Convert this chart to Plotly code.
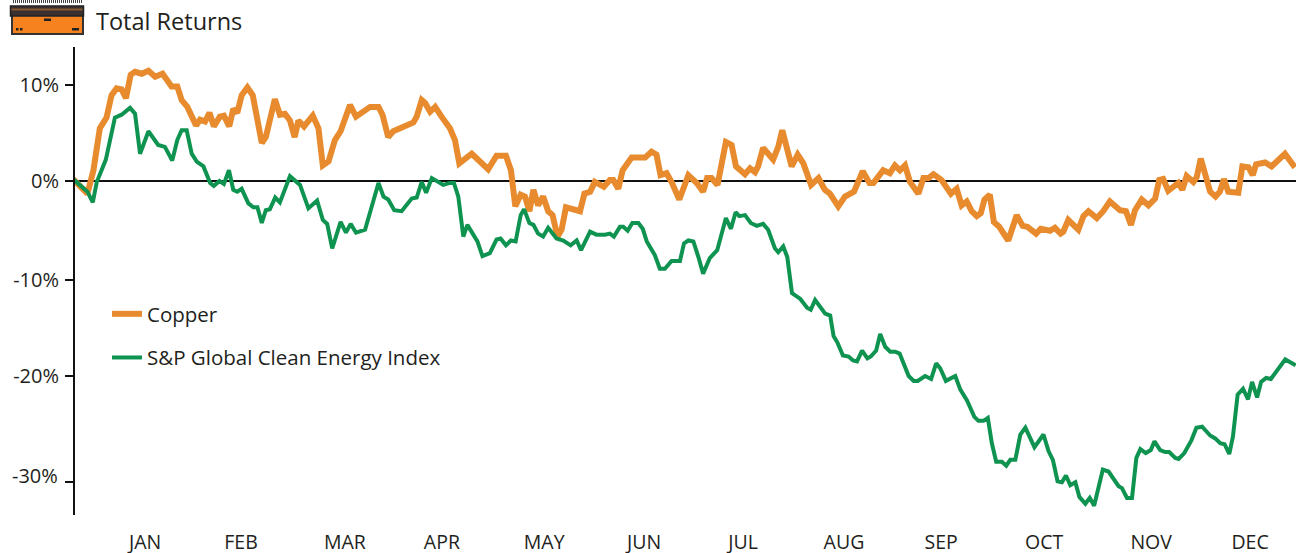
import plotly.graph_objects as go

copper_day = [0,4.6,6.4,8.3,10.3,11.8,13.3,14.8,16.1,17.5,18.8,20.8,22.8,24.8,27,29.7,31.4,32.7,34.4,37,38.2,39.7,41,42.3,44.1,45.3,46.9,48.1,49.3,50.6,52.3,53.9,56.6,57.8,60.5,62,63.5,65,66.4,67.5,69.2,71.8,73.5,74.8,76.5,78.4,80.1,82.9,84.7,88.9,91.4,92.6,94.3,95.8,101.8,102.8,104.3,105.3,106.8,108.3,110.2,112.7,114.2,115.5,119.2,124.1,126.6,129.4,130.9,132.2,133.8,135.1,136.4,137.6,139,140.5,142,143.3,144.8,146,147.3,151.5,152.8,154.5,155.9,158.6,160.4,161.4,162.9,164.2,166.9,170.9,172.8,174.3,175.5,177.3,178.8,181.1,183.8,186.3,188.2,189.4,190.7,192.5,195,196.7,198,200.7,202.2,203.7,204.6,206.1,209.1,210.6,211.8,214.6,216.4,218.1,220.4,222.6,224.5,226,228.5,230.5,233.2,235.8,237.8,239,241.9,243.9,245.4,246.9,248.4,249.9,252.4,253.9,255.4,256.9,259.3,262.1,263.8,265.3,266.8,268.3,269.8,271,272.1,273.7,274.9,276.5,279.2,280.7,281.7,283.5,284.9,287.5,288.9,291.6,293.1,294.8,295.6,297.1,300.1,301.6,303.1,305.6,307.5,309.5,312.5,314.3,315.8,317,319,321,323,324.2,325.4,326.9,329.9,331.1,332.4,334.4,335.4,336.6,339.4,341,342.3,343.5,344.8,347.8,349,350.8,352.1,353.1,355.8,357.7,361.7,364.7]
copper_val = [0.3,-1.3,1.1,5.4,6.5,8.8,9.5,9.4,8.5,10.9,11.2,11.0,11.3,10.7,11.0,9.7,9.7,8.3,7.6,5.7,6.3,6.1,7.0,5.6,6.6,6.7,5.6,7.4,7.0,8.8,9.6,8.8,3.9,4.5,8.4,6.8,6.9,6.2,4.5,6.2,5.6,6.7,5.4,1.6,2.0,4.2,5.1,7.8,6.6,7.6,7.6,6.8,4.5,5.1,6.0,6.6,8.3,8.0,7.1,7.6,6.6,5.4,4.2,1.8,2.8,1.2,2.6,2.6,1.1,-2.6,-1.4,-1.6,-3.1,-0.9,-2.5,-1.6,-3.1,-3.5,-5.7,-5.0,-2.7,-3.1,-1.3,-1.1,-0.1,-0.6,0.1,0.1,-0.8,1.1,2.4,2.4,3.0,2.7,0.6,0.8,-0.1,-1.9,0.6,-0.2,-1.1,0.3,0.3,-0.4,4.0,3.7,1.5,0.7,1.3,0.9,1.5,3.4,2.2,3.5,5.2,1.5,2.7,1.8,-0.4,0.3,-0.9,-1.3,-2.6,-1.6,-1.1,1.0,-0.2,-0.2,1.1,0.8,1.6,1.1,1.6,-0.1,-1.3,0.3,0.3,0.7,0.1,-1.3,-0.8,-2.5,-2.1,-3.1,-3.6,-3.3,-1.9,-1.4,-4.2,-4.7,-6.1,-4.2,-3.5,-4.6,-4.7,-5.4,-4.9,-5.1,-4.8,-5.4,-5.2,-4.0,-5.0,-3.6,-3.1,-3.8,-3.1,-2.1,-3.0,-3.1,-4.5,-3.0,-1.9,-2.5,-1.8,0.1,0.2,-1.0,-0.2,-0.9,0.5,-0.1,0.4,2.3,-1.1,-1.6,-1.1,0.2,-1.1,-1.2,1.5,1.4,0.6,1.7,1.9,1.5,2.8,1.4]

clean_day = [0,4.6,6.2,7.4,10.1,12.8,14.8,17.3,18.8,20.3,22.8,25.7,27.7,29.9,31.4,32.7,34.2,35.7,37.2,39.2,41.2,42.3,44,45.3,46.8,48.1,49.3,50.6,52.6,54.1,55.3,56.6,57.8,59,60.6,62,65,68,70.5,73.1,74.8,76.1,77.6,80.1,81.7,83.1,84.7,87.4,91.4,92.9,94.3,96.1,98.3,101.3,102.8,104.3,105.6,107.3,110.7,112.7,113.9,115.2,116.7,117.9,120.9,122.4,124.6,126.6,127.8,129.4,130.9,132.3,133.8,134.8,136.4,137.6,139,140.5,142,144.5,146.5,148.7,150.5,151.8,154.5,156.4,158.9,160.4,161.6,163.4,164.4,165.7,167.1,168.9,170.2,171.4,173.8,175.3,176.8,178.8,181.3,182.5,183.8,185.3,186.8,188.2,190.2,192.4,195,196.5,197.9,199,200.7,202.4,204.2,206.1,207.6,209.6,210.6,212.1,213.3,214.7,217.2,219.2,220.3,221.6,224.6,226.1,227.1,228.3,229.9,231.6,232.9,234.1,235.6,237.2,238.2,239.8,241,242.5,244,245.5,246.8,249.5,251,252.2,254.4,256.2,257.7,258.9,260.6,263.4,264.9,266.9,269.1,270.3,271.8,273.1,274.3,275.6,277.3,278.6,279.8,281.3,282.8,284.3,287,289.7,291.2,292.5,293.9,295.2,296.4,297.7,299.2,300.4,302.2,303.5,304.8,307.4,309.1,312.1,313.1,314.6,316.1,317.4,318.6,320.2,321.7,322.8,324.5,326,327.2,329,330,331.7,333.8,335.3,337,339.4,340.9,342.4,343.7,345.1,346.2,347.6,349.2,350.7,351.9,353.4,354.6,356.1,357.5,360.3,361.8,364.9]
clean_val = [0.3,-1.1,-2.2,-0.1,2.2,6.5,6.8,7.5,6.9,2.8,5.1,3.7,3.5,2.1,4.2,5.2,5.2,2.8,2.0,1.5,-0.2,-0.5,0,-0.3,1.1,-0.9,-1.1,-0.8,-2.3,-2.7,-2.7,-4.3,-3.0,-2.9,-1.7,-2.2,0.5,-0.4,-2.8,-2.0,-4.0,-4.4,-6.9,-4.2,-5.3,-4.4,-5.3,-5.0,-0.2,-1.6,-1.9,-3.0,-3.1,-1.8,-1.7,-0.1,-1.2,0.3,-0.4,-0.2,-0.2,-1.6,-5.7,-4.5,-6.2,-7.7,-7.4,-6.0,-5.9,-6.6,-6.1,-6.2,-3.5,-2.9,-4.3,-4.5,-5.4,-5.7,-4.8,-5.9,-6.1,-6.6,-6.1,-7.1,-5.2,-5.5,-5.5,-5.4,-5.7,-4.7,-4.7,-5.1,-4.3,-4.3,-4.9,-6.2,-7.6,-9.0,-9.0,-8.2,-8.2,-6.4,-6.1,-6.2,-7.8,-9.5,-7.9,-7.1,-3.8,-4.9,-3.2,-3.6,-3.5,-4.3,-4.6,-4.4,-5.0,-6.9,-7.3,-6.7,-7.8,-11.5,-12.1,-13.0,-13.2,-12.2,-13.6,-13.8,-15.9,-16.6,-17.9,-18.0,-18.4,-18.5,-17.4,-18.2,-18.0,-17.4,-15.7,-17.0,-17.5,-17.5,-17.7,-20.0,-20.5,-20.5,-20.0,-20.3,-18.7,-19.2,-20.5,-20.0,-21.4,-22.5,-24.2,-24.6,-24.6,-24.3,-26.9,-28.8,-28.8,-29.2,-28.6,-28.6,-26.0,-25.3,-27.3,-26.0,-27.7,-28.6,-30.8,-30.9,-30.2,-31.2,-30.9,-32.4,-33.1,-32.5,-33.3,-29.6,-29.8,-31.3,-31.5,-32.5,-32.5,-28.4,-27.5,-27.9,-27.6,-26.7,-27.6,-27.8,-27.8,-28.4,-28.5,-27.9,-26.6,-25.3,-25.2,-26.1,-26.4,-26.9,-27.0,-28.0,-26.2,-21.9,-21.3,-22.4,-20.6,-22.2,-20.6,-20.2,-20.3,-19.0,-18.3,-18.9]

month_labels = ["JAN","FEB","MAR","APR","MAY","JUN","JUL","AUG","SEP","OCT","NOV","DEC"]
month_ticks = [21.8,50.4,81.4,110.3,140.8,170.6,200.1,230.2,259.2,289.9,321.8,351.3]
y_ticks = [9.85,0,-10.15,-20,-30.9]
y_labels = ["10%","0%","-10%","-20%",""]

W, H = 1308, 553
L, R, T, B = 75, 1296, 47, 515
FONT = "Open Sans"
INK = "#231f20"

def px(x): return (x - L) / (R - L)
def py(y): return (B - y) / (B - T)

fig = go.Figure()
fig.add_trace(go.Scatter(x=copper_day, y=copper_val, name="Copper", mode="lines", cliponaxis=False,
                         line=dict(color="#E88B2E", width=6), legendgroup="a"))
fig.add_trace(go.Scatter(x=clean_day, y=clean_val, name="S&P Global Clean Energy Index", mode="lines", cliponaxis=False,
                         line=dict(color="#0F9350", width=4), legendgroup="b"))

def rect(x0, y0, x1, y1, fill, lw=0, lc=INK):
    return dict(type="rect", xref="paper", yref="paper", x0=px(x0), x1=px(x1), y0=py(y0), y1=py(y1),
                fillcolor=fill, line=dict(width=lw, color=lc))

shapes = [
    dict(type="line", xref="paper", yref="paper", x0=px(13), x1=px(82), y0=py(1.5), y1=py(1.5),
         line=dict(color="#444", width=3, dash="1px 1px")),
    rect(12, 15, 83, 34, "#F5821F", 2, "#333"),
    rect(10.5, 6, 83.5, 16, "#3a3030", 1.5, "#222"),
    rect(11.5, 8.5, 82.5, 10.5, "#8a5a30"),
    rect(44, 18.5, 51, 21, "#222"),
    rect(72, 28, 79, 30.5, "#222"),
    rect(16, 28, 18.5, 30.5, "#222"),
    rect(20, 28, 22.5, 30.5, "#222"),
]

annotations = [
    dict(text="Total Returns", xref="paper", yref="paper", x=px(94), y=py(21), xanchor="left", yanchor="middle",
         showarrow=False, font=dict(family=FONT, size=23.5, color=INK)),
    dict(text="-30%", xref="paper", yref="paper", x=px(60), y=py(475), xanchor="right", yanchor="middle",
         showarrow=False, font=dict(family=FONT, size=20, color=INK)),
]

fig.update_layout(
    width=W, height=H, margin=dict(l=L, r=W-R, t=T, b=H-B), paper_bgcolor="white", plot_bgcolor="white",
    font=dict(family=FONT, color=INK), shapes=shapes, annotations=annotations,
    legend=dict(x=px(107), y=py(294), xanchor="left", yanchor="top", bgcolor="rgba(0,0,0,0)",
                font=dict(family=FONT, size=20.5, color=INK), itemwidth=30, tracegroupgap=14, traceorder="grouped"),
    xaxis=dict(range=[0.9, 365], automargin=False, showgrid=False, zeroline=False, showline=False, tickmode="array",
               tickvals=month_ticks, ticktext=month_labels, ticks="outside", ticklen=10, tickcolor="rgba(0,0,0,0)",
               tickfont=dict(family=FONT, size=19.5, color=INK)),
    yaxis=dict(range=[(181-B)/9.75, (181-T)/9.75], automargin=False, showgrid=False, zeroline=True, zerolinecolor="#111",
               zerolinewidth=2, showline=True, linecolor="#111", linewidth=2, tickmode="array", tickvals=y_ticks,
               ticktext=y_labels, ticks="outside", ticklen=8, tickwidth=2, tickcolor="#111", ticklabelstandoff=2,
               tickfont=dict(family=FONT, size=20, color=INK)),
)
fig.write_html("out.html", config=dict(displayModeBar=False), post_script="document.body.style.margin='0';")
